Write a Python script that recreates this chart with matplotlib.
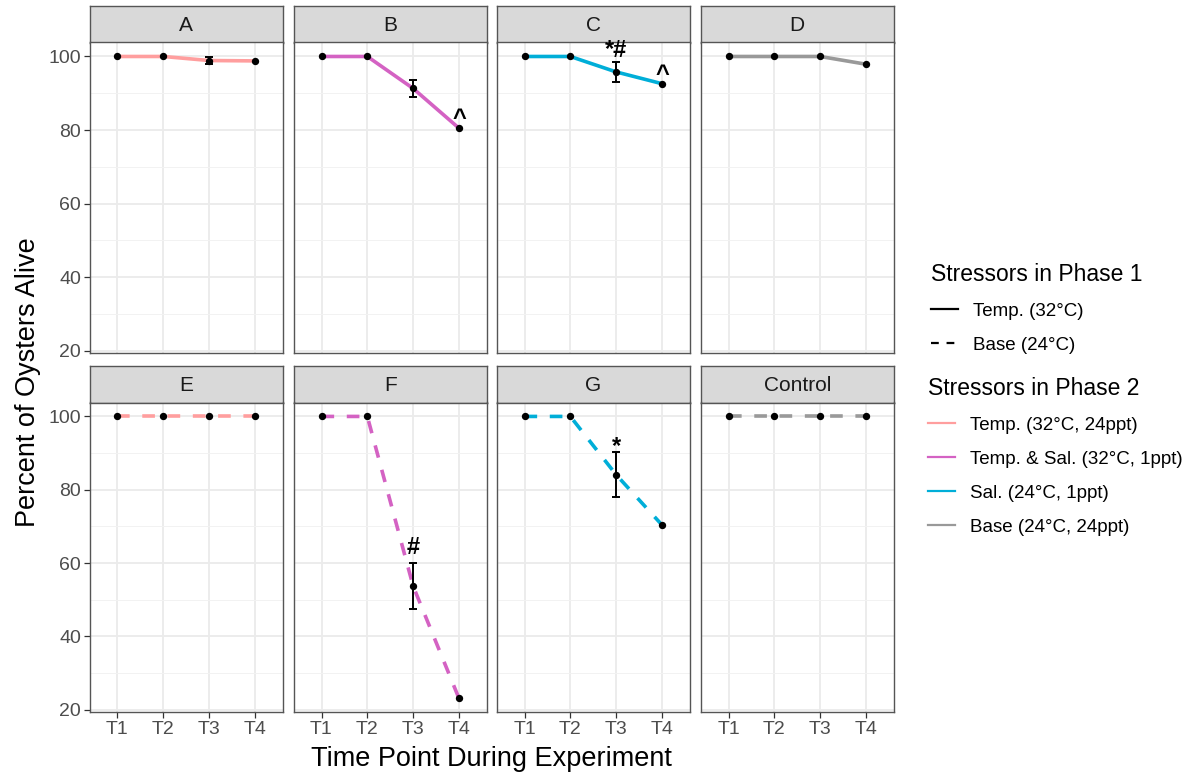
import matplotlib
matplotlib.use("Agg")
import matplotlib.pyplot as plt
from matplotlib.lines import Line2D
from matplotlib.ticker import MultipleLocator
import numpy as np

plt.rcParams['font.family'] = ['Liberation Sans', 'DejaVu Sans']

# ---- data ----
panels = ["A", "B", "C", "D", "E", "F", "G", "Control"]
timepoints = ["T1", "T2", "T3", "T4"]
phase1 = ["Temp.", "Temp.", "Temp.", "Temp.", "Base", "Base", "Base", "Base"]
phase2 = ["Temp.", "Temp. & Sal.", "Sal.", "Base", "Temp.", "Temp. & Sal.", "Sal.", "Base"]

alive_A = [100, 100, 98.9, 98.8]
alive_B = [100, 100, 91.3, 80.5]
alive_C = [100, 100, 95.8, 92.6]
alive_D = [100, 100, 100, 97.9]
alive_E = [100, 100, 100, 100]
alive_F = [100, 100, 53.7, 23.1]
alive_G = [100, 100, 84.1, 70.4]
alive_ctl = [100, 100, 100, 100]

se_A = [0, 0, 1.0, 0]
se_B = [0, 0, 2.2, 0]
se_C = [0, 0, 2.8, 0]
se_D = [0, 0, 0, 0]
se_E = [0, 0, 0, 0]
se_F = [0, 0, 6.2, 0]
se_G = [0, 0, 6.2, 0]
se_ctl = [0, 0, 0, 0]

# significance labels (panel, timepoint index, label)
sig_panel = ["B", "C", "C", "F", "G"]
sig_time = [3, 2, 3, 2, 2]
sig_label = ["^", "*#", "^", "#", "*"]

alive = [alive_A, alive_B, alive_C, alive_D, alive_E, alive_F, alive_G, alive_ctl]
ses = [se_A, se_B, se_C, se_D, se_E, se_F, se_G, se_ctl]

phase1_styles = {"Temp.": "solid", "Base": (0, (3.5, 3.5))}
phase1_labels = {"Temp.": "Temp. (32°C)", "Base": "Base (24°C)"}
phase2_colors = {"Temp.": "#FF9E9E", "Temp. & Sal.": "#D462C3",
                 "Sal.": "#00AED8", "Base": "#999999"}
phase2_labels = {"Temp.": "Temp. (32°C, 24ppt)", "Temp. & Sal.": "Temp. & Sal. (32°C, 1ppt)",
                 "Sal.": "Sal. (24°C, 1ppt)", "Base": "Base (24°C, 24ppt)"}
sig_offset = {"^": -1.5, "*#": 0, "#": 3, "*": -4}

W, H = 1194, 776
fig = plt.figure(figsize=(W / 100, H / 100), dpi=100)


def px_rect(x0, y0, x1, y1):
    return [x0 / W, 1 - y1 / H, (x1 - x0) / W, (y1 - y0) / H]


col_left = [90, 294, 497, 701]
pw = 192.5
row_strip = [(6, 42.5, 353), (366, 402.5, 712)]
border = "#555555"

x = np.arange(1, 5)
for i, name in enumerate(panels):
    r, c = divmod(i, 4)
    st, pt, pb = row_strip[r]
    x0 = col_left[c]
    sax = fig.add_axes(px_rect(x0, st, x0 + pw, pt))
    ax = fig.add_axes(px_rect(x0, pt, x0 + pw, pb))
    ax.set_zorder(3)
    sax.set_facecolor("#D9D9D9")
    sax.set_xticks([])
    sax.set_yticks([])
    for s in sax.spines.values():
        s.set_color(border)
        s.set_linewidth(1.0)
    sax.text(0.5, 0.47, name, ha="center", va="center", fontsize=15, color="#1A1A1A",
             transform=sax.transAxes)

    ax.set_xlim(0.4, 4.6)
    ax.set_ylim(19.4, 103.8)
    ax.yaxis.set_major_locator(MultipleLocator(20))
    ax.yaxis.set_minor_locator(MultipleLocator(10))
    ax.set_xticks(x)
    ax.grid(which="major", color="#EBEBEB", lw=1.3, zorder=0)
    ax.grid(which="minor", axis="y", color="#F2F2F2", lw=0.7, zorder=0)
    ax.tick_params(which="minor", length=0)
    for s in ax.spines.values():
        s.set_color(border)
        s.set_linewidth(1.0)
    ax.tick_params(which="major", length=4, color="#333333", labelcolor="#4D4D4D",
                   labelsize=14, width=0.9, pad=2.5)
    if c == 0:
        ax.set_yticks([20, 40, 60, 80, 100])
    else:
        ax.tick_params(axis="y", left=False, labelleft=False)
    if r == 1:
        ax.set_xticklabels(timepoints)
    else:
        ax.tick_params(axis="x", bottom=False, labelbottom=False)

    ax.plot(x, alive[i], color=phase2_colors[phase2[i]], lw=2.6,
            linestyle=phase1_styles[phase1[i]], zorder=2)
    err = np.array(ses[i])
    mask = err > 0
    if mask.any():
        ax.errorbar(x[mask], np.array(alive[i])[mask], yerr=err[mask], fmt="none",
                    ecolor="black", elinewidth=1.4, capsize=3, capthick=1.4, zorder=3)
    ax.scatter(x, alive[i], s=28, color="black", zorder=4, linewidths=0)

    for p, t, lab in zip(sig_panel, sig_time, sig_label):
        if p == name:
            ytop = alive[i][t] + ses[i][t]
            ax.annotate(lab, (x[t], ytop), xytext=(0, sig_offset[lab]),
                        textcoords="offset points", ha="center", va="bottom",
                        fontsize=17, fontweight="bold", color="black",
                        zorder=5, annotation_clip=False)

fig.text(28 / W, 1 - 382 / H, "Percent of Oysters Alive", rotation=90,
         ha="center", va="center", fontsize=19.5, color="black")
fig.text(491 / W, 1 - 759 / H, "Time Point During Experiment",
         ha="center", va="center", fontsize=19.5, color="black")

h1 = [Line2D([], [], color="black", lw=1.6, linestyle=phase1_styles[k]) for k in phase1_styles]
leg1 = fig.legend(h1, [phase1_labels[k] for k in phase1_styles],
                  title="Stressors in Phase 1", loc="upper left",
                  bbox_to_anchor=(914 / W, 1 - 246 / H), frameon=False,
                  fontsize=13.5, title_fontsize=16.5, labelspacing=0.9,
                  handlelength=1.45, alignment="left")
h2 = [Line2D([], [], color=phase2_colors[k], lw=1.6) for k in phase2_colors]
leg2 = fig.legend(h2, [phase2_labels[k] for k in phase2_colors],
                  title="Stressors in Phase 2", loc="upper left",
                  bbox_to_anchor=(911 / W, 1 - 360 / H), frameon=False,
                  fontsize=13.5, title_fontsize=16.5, labelspacing=0.9,
                  handlelength=1.45, alignment="left")

fig.savefig("out.png", dpi=100, facecolor="white")
